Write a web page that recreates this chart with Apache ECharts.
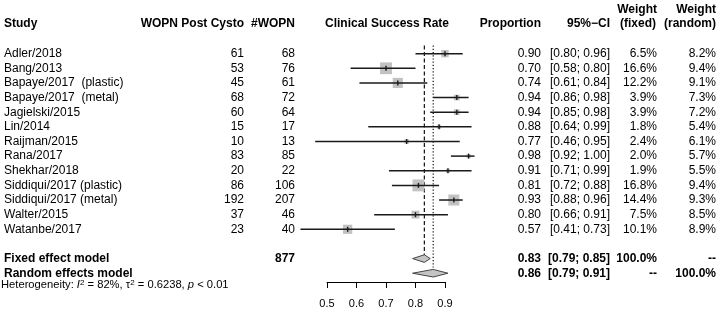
<!DOCTYPE html>
<html>
<head>
<meta charset="utf-8">
<script src="https://cdn.jsdelivr.net/npm/echarts@6/dist/echarts.min.js"></script>
<style>
html, body { margin: 0; padding: 0; background: #fff; }
#chart { width: 721px; height: 312px; }
</style>
</head>
<body>
<div id="chart"></div>
<script>
// study rows
var studies = ['Adler/2018', 'Bang/2013', 'Bapaye/2017  (plastic)', 'Bapaye/2017  (metal)', 'Jagielski/2015',
  'Lin/2014', 'Raijman/2015', 'Rana/2017', 'Shekhar/2018', 'Siddiqui/2017 (plastic)', 'Siddiqui/2017 (metal)',
  'Walter/2015', 'Watanbe/2017'];
var events = [61, 53, 45, 68, 60, 15, 10, 83, 20, 86, 192, 37, 23];
var totals = [68, 76, 61, 72, 64, 17, 13, 85, 22, 106, 207, 46, 40];
var props = [0.90, 0.70, 0.74, 0.94, 0.94, 0.88, 0.77, 0.98, 0.91, 0.81, 0.93, 0.80, 0.57];
var lower = [0.80, 0.58, 0.61, 0.86, 0.85, 0.64, 0.46, 0.92, 0.71, 0.72, 0.88, 0.66, 0.41];
var upper = [0.96, 0.80, 0.84, 0.98, 0.98, 0.99, 0.95, 1.00, 0.99, 0.88, 0.96, 0.91, 0.73];
var weightFixed = [6.5, 16.6, 12.2, 3.9, 3.9, 1.8, 2.4, 2.0, 1.9, 16.8, 14.4, 7.5, 10.1];
var weightRandom = [8.2, 9.4, 9.1, 7.3, 7.2, 5.4, 6.1, 5.7, 5.5, 9.4, 9.3, 8.5, 8.9];

// pooled rows
var summaryNames = ['Fixed effect model', 'Random effects model'];
var summaryProp = [0.83, 0.86];
var summaryLower = [0.79, 0.79];
var summaryUpper = [0.85, 0.91];
var summaryWFixed = ['100.0%', '--'];
var summaryWRandom = ['--', '100.0%'];
var totalWOPN = 877;

var xTicks = [0.5, 0.6, 0.7, 0.8, 0.9];
var heterogeneity = 'Heterogeneity: {it|I}{sup|2} = 82%, τ{sup|2} = 0.6238, {it|p} < 0.01';

var FONT = "'Liberation Sans', Arial, sans-serif";
var summaryRow0 = studies.length + 1; // blank row before the pooled rows

// columns: x position (px) and alignment
var cols = [
  { x: 4, align: 'left' },
  { x: 244, align: 'right' },
  { x: 295, align: 'right' },
  { x: 541, align: 'right' },
  { x: 610, align: 'right' },
  { x: 657, align: 'right' },
  { x: 716, align: 'right' }
];

function ci(lo, hi) { return '[' + lo.toFixed(2) + '; ' + hi.toFixed(2) + ']'; }

var textRows = [];
studies.forEach(function (s, i) {
  textRows.push({
    row: i, bold: false,
    cells: [s, String(events[i]), String(totals[i]), props[i].toFixed(2), ci(lower[i], upper[i]),
      weightFixed[i].toFixed(1) + '%', weightRandom[i].toFixed(1) + '%']
  });
});
summaryNames.forEach(function (s, k) {
  textRows.push({
    row: summaryRow0 + k, bold: true,
    cells: [s, '', k === 0 ? String(totalWOPN) : '', summaryProp[k].toFixed(2),
      ci(summaryLower[k], summaryUpper[k]), summaryWFixed[k], summaryWRandom[k]]
  });
});

var headers = [
  { t: 'Study', x: 4, y: 24, a: 'left' },
  { t: 'WOPN Post Cysto', x: 244, y: 24, a: 'right' },
  { t: '#WOPN', x: 295, y: 24, a: 'right' },
  { t: 'Clinical Success Rate', x: 387, y: 24, a: 'center' },
  { t: 'Proportion', x: 541, y: 24, a: 'right' },
  { t: '95%\u2212CI', x: 610, y: 24, a: 'right' },
  { t: 'Weight', x: 657, y: 10, a: 'right' },
  { t: '(fixed)', x: 656, y: 24, a: 'right' },
  { t: 'Weight', x: 716, y: 10, a: 'right' },
  { t: '(random)', x: 716, y: 24, a: 'right' }
];

var chart = echarts.init(document.getElementById('chart'));

var option = {
  animation: false,
  backgroundColor: '#fff',
  grid: { left: 327, right: 276, top: 39, bottom: 30 },
  xAxis: {
    type: 'value',
    min: xTicks[0],
    max: xTicks[xTicks.length - 1],
    interval: 0.1,
    splitLine: { show: false },
    axisLine: { show: true, onZero: false, lineStyle: { color: '#000', width: 1 } },
    axisTick: { show: true, length: 6, lineStyle: { color: '#000', width: 1 } },
    axisLabel: {
      color: '#000', fontSize: 11, fontFamily: FONT, margin: 16,
      formatter: function (v) { return v.toFixed(1); }
    }
  },
  yAxis: { type: 'value', inverse: true, min: -1, max: 15.6, show: false },
  graphic: headers.map(function (h) {
    return {
      type: 'text', x: h.x, y: h.y,
      style: { text: h.t, fill: '#000', fontSize: 12, fontWeight: 'bold', fontFamily: FONT, align: h.a, verticalAlign: 'middle' }
    };
  }).concat([{
    type: 'text', x: 1, y: 285,
    style: {
      text: heterogeneity, fill: '#000', fontSize: 11.2, fontFamily: FONT, verticalAlign: 'middle', lineHeight: 13,
      rich: {
        it: { fontStyle: 'italic', fontSize: 11.2, fontFamily: FONT },
        sup: { fontSize: 8, fontFamily: FONT, verticalAlign: 'top' }
      }
    }
  }]),
  series: [
    {
      // reference lines for pooled estimates
      type: 'custom', clip: false, z: 1,
      data: [[summaryProp[0], -0.55, summaryRow0 - 0.25, 0], [summaryProp[1], -0.55, summaryRow0 + 0.75, 1]],
      renderItem: function (params, api) {
        var a = api.coord([api.value(0), api.value(1)]);
        var b = api.coord([api.value(0), api.value(2)]);
        return {
          type: 'line', shape: { x1: a[0], y1: a[1], x2: b[0], y2: b[1] },
          style: { stroke: '#111', lineWidth: 1.2, lineDash: api.value(3) === 0 ? [4, 2.5] : [1.2, 2] }
        };
      }
    },
    {
      // individual studies
      type: 'custom', clip: false, z: 2,
      data: studies.map(function (s, i) { return [props[i], i, lower[i], upper[i], weightFixed[i]]; }),
      renderItem: function (params, api) {
        var p = api.coord([api.value(0), api.value(1)]);
        var lo = api.coord([api.value(2), api.value(1)]);
        var hi = api.coord([api.value(3), api.value(1)]);
        var s = Math.sqrt(api.value(4)) * 2.9;
        return {
          type: 'group',
          children: [
            { type: 'rect', shape: { x: p[0] - s / 2, y: p[1] - s / 2, width: s, height: s }, style: { fill: '#c2c2c2' } },
            { type: 'line', shape: { x1: lo[0], y1: lo[1], x2: hi[0], y2: hi[1] }, style: { stroke: '#1a1a1a', lineWidth: 1.5 } },
            { type: 'line', shape: { x1: p[0], y1: p[1] - 2.5, x2: p[0], y2: p[1] + 2.5 }, style: { stroke: '#1a1a1a', lineWidth: 1.4 } }
          ]
        };
      }
    },
    {
      // pooled diamonds
      type: 'custom', clip: false, z: 2,
      data: summaryProp.map(function (p, k) { return [p, summaryRow0 + k, summaryLower[k], summaryUpper[k]]; }),
      renderItem: function (params, api) {
        var p = api.coord([api.value(0), api.value(1)]);
        var lo = api.coord([api.value(2), api.value(1)]);
        var hi = api.coord([api.value(3), api.value(1)]);
        var h = 3.8;
        return {
          type: 'polygon',
          shape: { points: [[lo[0], p[1]], [p[0], p[1] - h], [hi[0], p[1]], [p[0], p[1] + h]] },
          style: { fill: '#c4c4c4', stroke: '#444', lineWidth: 1 }
        };
      }
    },
    {
      // table text
      type: 'custom', clip: false, z: 3,
      data: textRows.map(function (r) { return [0.5, r.row]; }),
      renderItem: function (params, api) {
        var r = textRows[params.dataIndex];
        var y = api.coord([api.value(0), api.value(1)])[1];
        return {
          type: 'group',
          children: r.cells.map(function (c, j) {
            return {
              type: 'text',
              style: {
                text: c, x: cols[j].x, y: y, fill: '#000', fontSize: 12, fontFamily: FONT,
                fontWeight: r.bold ? 'bold' : 'normal', align: cols[j].align, verticalAlign: 'middle'
              }
            };
          })
        };
      }
    }
  ]
};

chart.setOption(option);
</script>
</body>
</html>
